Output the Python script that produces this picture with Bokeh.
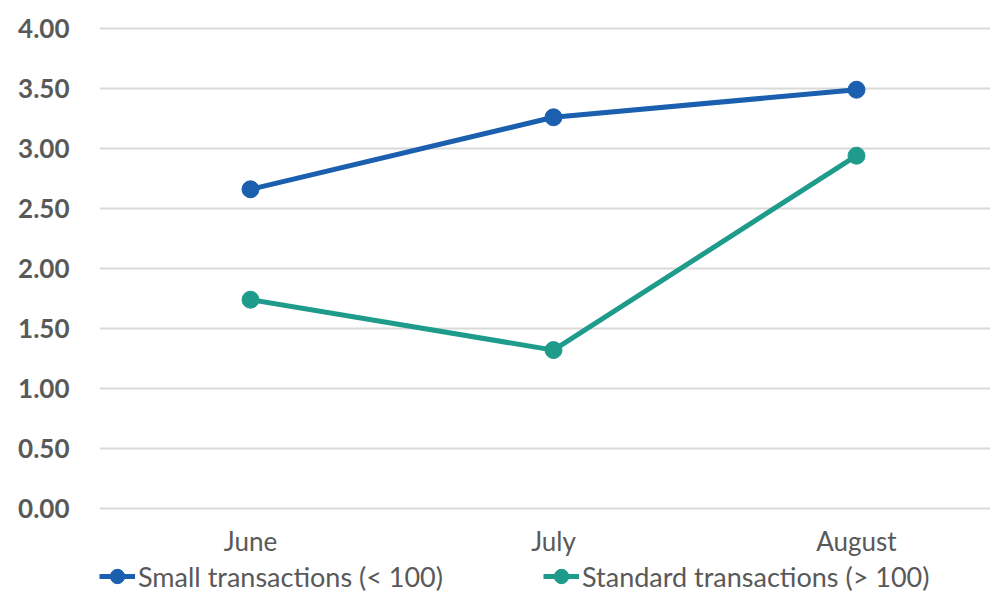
from bokeh.plotting import figure
from bokeh.models import Range1d, FixedTicker, Legend, LegendItem, NumeralTickFormatter
from bokeh.embed import file_html
from bokeh.resources import INLINE

months = ["June", "July", "August"]
small_tx = [2.66, 3.26, 3.49]
standard_tx = [1.74, 1.32, 2.94]
y_ticks = [0.0, 0.5, 1.0, 1.5, 2.0, 2.5, 3.0, 3.5, 4.0]

BLUE = "#1B5FAF"
TEAL = "#1F9B8B"
GRAY = "#595959"
FONT = "Lato"

xs = list(range(len(months)))

p = figure(width=990, height=595, output_backend="svg", toolbar_location=None,
           x_range=Range1d(-0.4983, 2.4422), y_range=Range1d(-0.725, 4 + 1 / 60),
           min_border_left=99, min_border_right=0, min_border_top=26, min_border_bottom=0)
p.frame_width = 891
p.frame_height = 569
p.outline_line_color = None
p.background_fill_color = "white"
p.border_fill_color = "white"

r1l = p.line(xs, small_tx, line_color=BLUE, line_width=5)
r1m = p.scatter(xs, small_tx, size=17, fill_color=BLUE, line_color=BLUE)
r2l = p.line(xs, standard_tx, line_color=TEAL, line_width=5)
r2m = p.scatter(xs, standard_tx, size=17, fill_color=TEAL, line_color=TEAL)

p.xgrid.grid_line_color = None
p.ygrid.grid_line_color = "#D9D9D9"
p.ygrid.grid_line_width = 2
p.ygrid.ticker = FixedTicker(ticks=y_ticks)

p.yaxis.ticker = FixedTicker(ticks=y_ticks)
p.yaxis.formatter = NumeralTickFormatter(format="0.00")
p.yaxis.axis_line_color = None
p.yaxis.major_tick_line_color = None
p.yaxis.minor_tick_line_color = None
p.yaxis.major_tick_out = 0
p.yaxis.major_label_text_font = FONT
p.yaxis.major_label_text_font_style = "bold"
p.yaxis.major_label_text_font_size = "26px"
p.yaxis.major_label_text_color = GRAY
p.yaxis.major_label_standoff = 30

p.xaxis.fixed_location = 0
p.xaxis.ticker = FixedTicker(ticks=xs)
p.xaxis.major_label_overrides = {i: m for i, m in enumerate(months)}
p.xaxis.axis_line_color = None
p.xaxis.major_tick_line_color = None
p.xaxis.minor_tick_line_color = None
p.xaxis.major_tick_out = 0
p.xaxis.major_tick_in = 0
p.xaxis.major_label_text_font = FONT
p.xaxis.major_label_text_font_size = "26px"
p.xaxis.major_label_text_color = GRAY
p.xaxis.major_label_standoff = 16

legend = Legend(items=[
    LegendItem(label="Small transactions (< 100)", renderers=[r1l, r1m]),
    LegendItem(label="Standard transactions (> 100)", renderers=[r2l, r2m]),
], orientation="horizontal", location=(0, 1))
legend.glyph_width = 36
legend.glyph_height = 36
legend.label_height = 36
legend.label_standoff = 3
legend.spacing = 100
legend.padding = 0
legend.margin = 0
legend.border_line_color = None
legend.background_fill_alpha = 0
legend.label_text_font = FONT
legend.label_text_font_size = "27px"
legend.label_text_color = GRAY
p.add_layout(legend, "center")

open("out.html", "w").write(file_html(p, INLINE))
